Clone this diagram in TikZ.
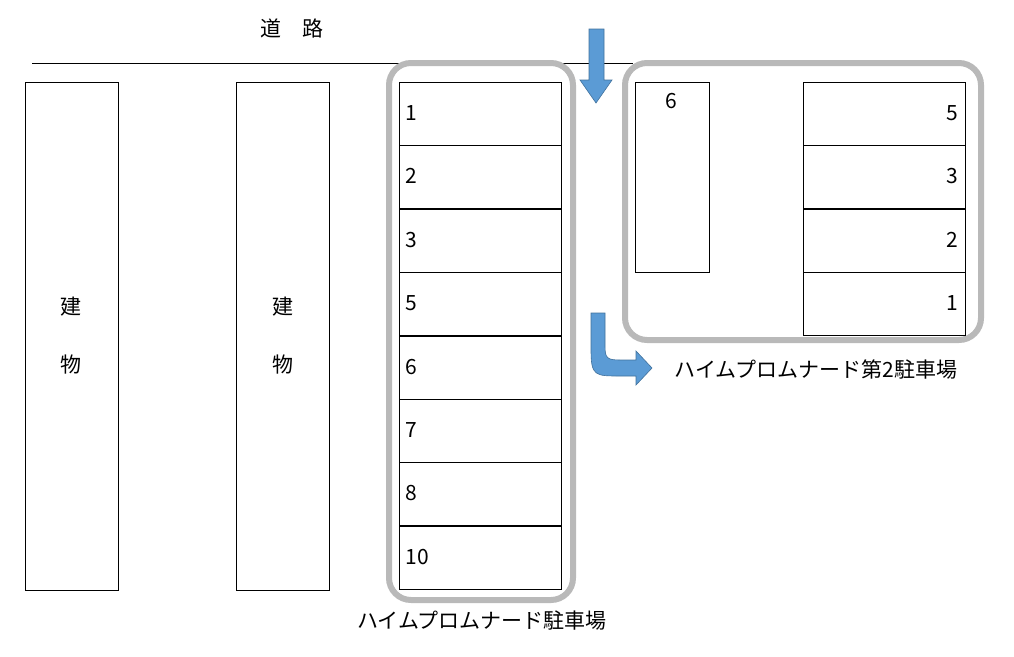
\documentclass[tikz,border=0pt]{standalone}
\usepackage{fontspec}
\setmainfont{Noto Sans CJK JP}
\begin{document}
\begin{tikzpicture}[x=1pt,y=-1pt,font=\fontsize{21}{23}\selectfont,
  slot/.style={draw,line width=0.8pt},
  lot/.style={draw=gray!55,line width=6pt,rounded corners=22pt},
  flow/.style={fill={rgb,255:red,91;green,155;blue,213},draw={rgb,255:red,65;green,113;blue,156},line width=0.6pt}]
\useasboundingbox (0,0) rectangle (1014,656);
\node (road) at (292,28) {道\quad 路};
\draw[line width=0.8pt] (32,63) coordinate (r1) -- (633,63) coordinate (r2);
% buildings
\draw[slot] (25,82) rectangle (118,590);
\draw[slot] (236,82) rectangle (329,590);
\foreach \x in {71,283}{
  \node at (\x,307) {建};
  \node at (\x,365) {物};
}
% lots
\draw[lot] (389,63) rectangle (573,600);
\draw[lot] (625,63) rectangle (981,340);
\foreach \y/\t [count=\i] in {82/1,145/2,209/3,272/5,336/6,399/7,462/8,526/10}{
  \draw[slot] (399,\y) rectangle +(162,63.5);
  \node[anchor=west] (a\i) at (402,\y+31) {\t};
}
\foreach \y/\t [count=\i] in {82/5,145/3,209/2,272/1}{
  \draw[slot] (803,\y) rectangle +(162,63);
  \node[anchor=east] (b\i) at (962,\y+31) {\t};
}
\draw[slot] (635,82) rectangle (709,272);
\node (b6) at (671,101) {6};
\node (lotA) at (482,621) {ハイムプロムナード駐車場};
\node (lotB) at (816,370) {ハイムプロムナード第2駐車場};
% arrows
\draw[flow] (589,29) -- (604,29) -- (604,80) -- (612,80) -- (596,103) -- (580,80) -- (589,80) -- cycle;
\draw[flow] (591,313) -- (591,350) .. controls (591,376) and (595,376) .. (620,376) -- (636,376) -- (636,385)
  -- (652,368) -- (636,351) -- (636,360) -- (620,360) .. controls (607,360) and (605,358) .. (605,346) -- (605,313) -- cycle;
\end{tikzpicture}
\end{document}
